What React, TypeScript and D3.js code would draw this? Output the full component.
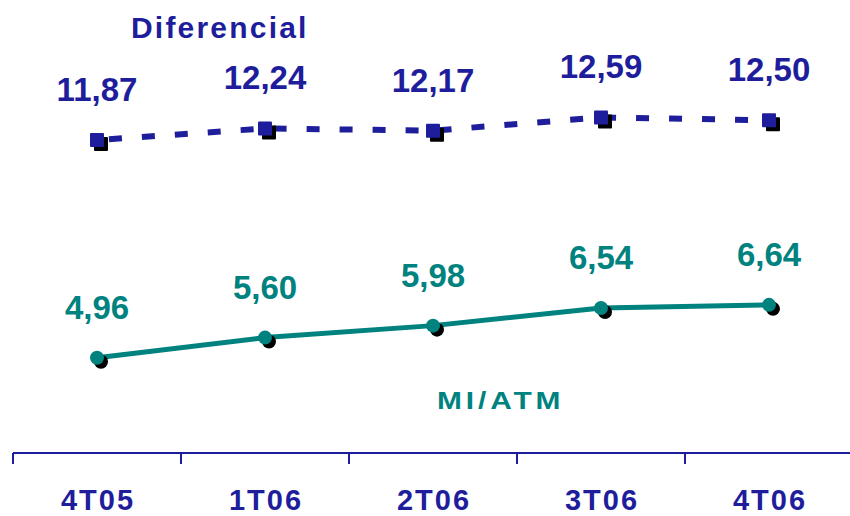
import React from "react";
import * as d3 from "d3";

const categories = ["4T05", "1T06", "2T06", "3T06", "4T06"];
const diferencial = [11.87, 12.24, 12.17, 12.59, 12.5];
const miAtm = [4.96, 5.6, 5.98, 6.54, 6.64];

const W = 850;
const H = 516;
const BLUE = "#1e1e9c";
const TEAL = "#00827f";

export default function App() {
  const x = d3.scaleBand<string>().domain(categories).range([13, 853]);
  const y = d3.scaleLinear().domain([0, 14]).range([514, 73]);
  const cx = (c: string) => (x(c) as number) + x.bandwidth() / 2;
  const line = d3
    .line<number>()
    .x((_, i) => cx(categories[i]))
    .y((d) => y(d));
  const fmt = (v: number) => v.toFixed(2).replace(".", ",");
  const font = "Arial, 'Liberation Sans', sans-serif";
  const axisY = 453;
  const ticks = categories.map((c) => x(c) as number);

  return (
    <svg
      width={W}
      height={H}
      style={{ position: "absolute", left: 0, top: 0, background: "#fff" }}
      fontFamily={font}
    >
      {/* axis */}
      <line x1={13} x2={853} y1={axisY} y2={axisY} stroke={BLUE} strokeWidth={2} />
      {ticks.map((t, i) => (
        <line key={i} x1={t} x2={t} y1={axisY} y2={axisY + 11} stroke={BLUE} strokeWidth={2} />
      ))}
      {categories.map((c) => (
        <text
          key={c}
          x={cx(c) + 1}
          y={510}
          textAnchor="middle"
          fontSize={29}
          fontWeight="bold"
          letterSpacing={2}
          fill={BLUE}
        >
          {c}
        </text>
      ))}

      {/* Diferencial series */}
      <path
        d={line(diferencial) || ""}
        fill="none"
        stroke={BLUE}
        strokeWidth={6}
        strokeDasharray="13 20"
        strokeDashoffset={-12}
      />
      {diferencial.map((v, i) => (
        <g key={i}>
          <rect x={cx(categories[i]) - 3} y={y(v) - 3} width={14} height={14} fill="#000" rx={1} />
          <rect x={cx(categories[i]) - 7} y={y(v) - 7} width={14} height={14} fill={BLUE} rx={1} />
          <text
            x={cx(categories[i])}
            y={y(v) - 39}
            textAnchor="middle"
            fontSize={33}
            fontWeight="bold"
            fill={BLUE}
          >
            {fmt(v)}
          </text>
        </g>
      ))}

      {/* MI/ATM series */}
      <path d={line(miAtm) || ""} fill="none" stroke={TEAL} strokeWidth={5} />
      {miAtm.map((v, i) => (
        <g key={i}>
          <circle cx={cx(categories[i]) + 4} cy={y(v) + 4} r={7} fill="#000" />
          <circle cx={cx(categories[i])} cy={y(v)} r={7} fill={TEAL} />
          <text
            x={cx(categories[i])}
            y={y(v) - 39}
            textAnchor="middle"
            fontSize={33}
            fontWeight="bold"
            fill={TEAL}
          >
            {fmt(v)}
          </text>
        </g>
      ))}

      <text x={131} y={38} fontSize={30} fontWeight="bold" fill={BLUE} letterSpacing={2.2}>
        Diferencial
      </text>
      <g transform="translate(437,409) scale(1.3,1)">
        <text x={0} y={0} fontSize={23} fontWeight="bold" fill={TEAL} letterSpacing={3}>
          MI/ATM
        </text>
      </g>
    </svg>
  );
}
